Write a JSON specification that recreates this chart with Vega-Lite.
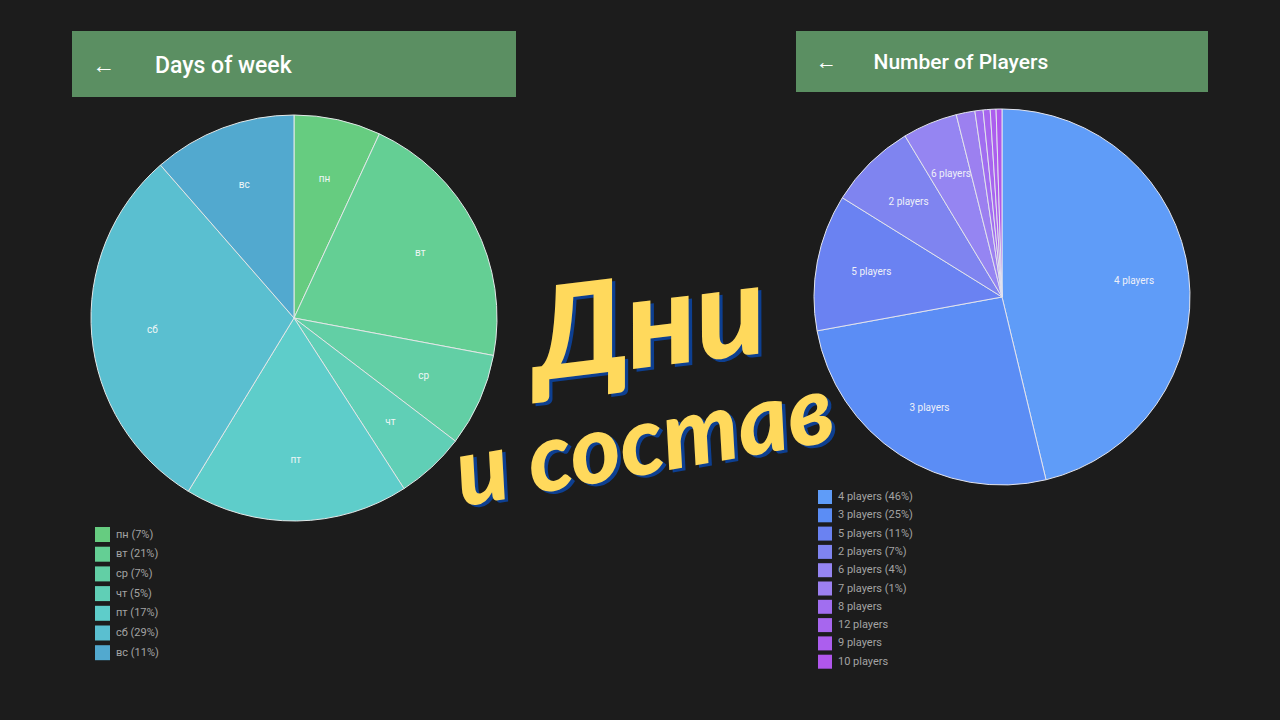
{
  "$schema": "https://vega.github.io/schema/vega-lite/v6.json",
  "background": "#1c1c1c",
  "padding": {"left": 72, "top": 31, "right": 72, "bottom": 0},
  "bounds": "flush",
  "columns": 3,
  "spacing": {"row": 18, "column": 0},
  "resolve": {
    "scale": {"color": "independent", "theta": "independent", "y": "independent"},
    "legend": {"color": "independent"}
  },
  "config": {
    "view": {"stroke": null},
    "font": "Roboto",
    "legend": {
      "orient": "none",
      "title": null,
      "symbolType": "square",
      "symbolStrokeWidth": 0,
      "symbolOpacity": 1,
      "labelColor": "#a3a3a3",
      "labelFont": "Roboto",
      "labelFontSize": 11,
      "labelOffset": 6,
      "padding": 0
    }
  },
  "concat": [
    {
      "width": 444,
      "height": 66,
      "data": {"values": [{"header": "Days of week"}]},
      "mark": {"type": "rect", "color": "#5b8f62"},
      "encoding": {},
      "title": {
        "text": "←\u00a0\u00a0\u00a0\u00a0\u00a0\u00a0\u00a0Days of week",
        "anchor": "start",
        "frame": "group",
        "orient": "top",
        "offset": 0,
        "baseline": "middle",
        "dx": 20,
        "dy": 58,
        "color": "#ffffff",
        "fontSize": 23,
        "fontWeight": 500,
        "font": "Roboto"
      }
    },
    {
      "width": 280,
      "height": 10,
      "data": {"values": [{"gap": "middle"}]},
      "mark": {"type": "rect", "opacity": 0},
      "encoding": {}
    },
    {
      "width": 412,
      "height": 61,
      "data": {"values": [{"header": "Number of Players"}]},
      "mark": {"type": "rect", "color": "#5b8f62"},
      "encoding": {},
      "title": {
        "text": "←\u00a0\u00a0\u00a0\u00a0\u00a0\u00a0\u00a0Number of Players",
        "anchor": "start",
        "frame": "group",
        "orient": "top",
        "offset": 0,
        "baseline": "middle",
        "dx": 20,
        "dy": 53,
        "color": "#ffffff",
        "fontSize": 21,
        "fontWeight": 500,
        "font": "Roboto"
      }
    },
    {
      "width": 444,
      "height": 406,
      "data": {
        "values": [
          {"idx": 1, "day": "пн", "legend": "пн (7%)", "share": 6.9},
          {"idx": 2, "day": "вт", "legend": "вт (21%)", "share": 21.0},
          {"idx": 3, "day": "ср", "legend": "ср (7%)", "share": 7.4},
          {"idx": 4, "day": "чт", "legend": "чт (5%)", "share": 5.5},
          {"idx": 5, "day": "пт", "legend": "пт (17%)", "share": 17.8},
          {"idx": 6, "day": "сб", "legend": "сб (29%)", "share": 29.8},
          {"idx": 7, "day": "вс", "legend": "вс (11%)", "share": 11.4}
        ]
      },
      "encoding": {
        "theta": {"field": "share", "type": "quantitative", "stack": true},
        "order": {"field": "idx", "type": "quantitative"}
      },
      "layer": [
        {
          "mark": {"type": "arc", "outerRadius": 203, "stroke": "#e2e8e8", "strokeWidth": 1},
          "encoding": {
            "color": {
              "field": "legend",
              "type": "nominal",
              "sort": null,
              "scale": {"range": ["#66cc80", "#64cf94", "#62cfa5", "#60cfb6", "#5ecdca", "#5abfd0", "#52a9cf"]},
              "legend": {"legendX": 23, "legendY": 412, "symbolSize": 225, "rowPadding": 4.7}
            }
          }
        },
        {
          "mark": {"type": "text", "radius": 142, "fontSize": 10, "color": "#eef6f6", "font": "Roboto"},
          "encoding": {
            "detail": {"field": "legend", "type": "nominal"},
            "text": {"field": "day", "type": "nominal"}
          }
        }
      ]
    },
    {
      "width": 280,
      "height": 605,
      "view": {"fill": "#1c1c1c", "stroke": null},
      "encoding": {
        "y": {
          "field": "line",
          "type": "nominal",
          "scale": {"type": "point", "domain": ["Дни", "и состав"], "range": [213, 328], "padding": 0},
          "axis": null
        },
        "text": {"field": "line", "type": "nominal"}
      },
      "layer": [
        {
          "data": {"values": [{"line": "Дни"}]},
          "mark": {"type": "text", "font": "Lato", "fontStyle": "italic", "fontWeight": 900, "fontSize": 128, "color": "#0d3f91", "angle": -7, "baseline": "middle", "dx": -5, "dy": 3}
        },
        {
          "data": {"values": [{"line": "Дни"}]},
          "mark": {"type": "text", "font": "Lato", "fontStyle": "italic", "fontWeight": 900, "fontSize": 128, "color": "#ffd95c", "angle": -7, "baseline": "middle", "dx": -8}
        },
        {
          "data": {"values": [{"line": "и состав"}]},
          "mark": {"type": "text", "font": "Lato", "fontStyle": "italic", "fontWeight": 900, "fontSize": 96, "color": "#0d3f91", "angle": -10, "baseline": "middle", "dx": -8, "dy": 3}
        },
        {
          "data": {"values": [{"line": "и состав"}]},
          "mark": {"type": "text", "font": "Lato", "fontStyle": "italic", "fontWeight": 900, "fontSize": 96, "color": "#ffd95c", "angle": -10, "baseline": "middle", "dx": -11}
        }
      ]
    },
    {
      "width": 412,
      "height": 364,
      "data": {
        "values": [
          {"idx": 1, "name": "4 players", "legend": "4 players (46%)", "share": 46.1},
          {"idx": 2, "name": "3 players", "legend": "3 players (25%)", "share": 25.8},
          {"idx": 3, "name": "5 players", "legend": "5 players (11%)", "share": 11.7},
          {"idx": 4, "name": "2 players", "legend": "2 players (7%)", "share": 7.5},
          {"idx": 5, "name": "6 players", "legend": "6 players (4%)", "share": 4.7},
          {"idx": 6, "name": "7 players", "legend": "7 players (1%)", "share": 1.6},
          {"idx": 7, "name": "8 players", "legend": "8 players", "share": 0.7},
          {"idx": 8, "name": "12 players", "legend": "12 players", "share": 0.6},
          {"idx": 9, "name": "9 players", "legend": "9 players", "share": 0.5},
          {"idx": 10, "name": "10 players", "legend": "10 players", "share": 0.5}
        ]
      },
      "encoding": {
        "theta": {"field": "share", "type": "quantitative", "stack": true},
        "order": {"field": "idx", "type": "quantitative"}
      },
      "layer": [
        {
          "mark": {"type": "arc", "outerRadius": 188, "stroke": "#e2e4ee", "strokeWidth": 1},
          "encoding": {
            "color": {
              "field": "legend",
              "type": "nominal",
              "sort": null,
              "scale": {"range": ["#5f9cf8", "#5b8df5", "#6a82f2", "#7f84f0", "#9585f2", "#9c80f0", "#a16ef0", "#a766ee", "#ac5eee", "#b056ec"]},
              "legend": {"legendX": 22, "legendY": 375, "symbolSize": 196, "rowPadding": 4.3}
            }
          }
        },
        {
          "mark": {"type": "text", "radius": 133, "fontSize": 10, "color": "#eef0f8", "font": "Roboto"},
          "encoding": {
            "detail": {"field": "legend", "type": "nominal"},
            "text": {
              "condition": {"test": "datum.share >= 4", "field": "name"},
              "value": ""
            }
          }
        }
      ]
    }
  ]
}
